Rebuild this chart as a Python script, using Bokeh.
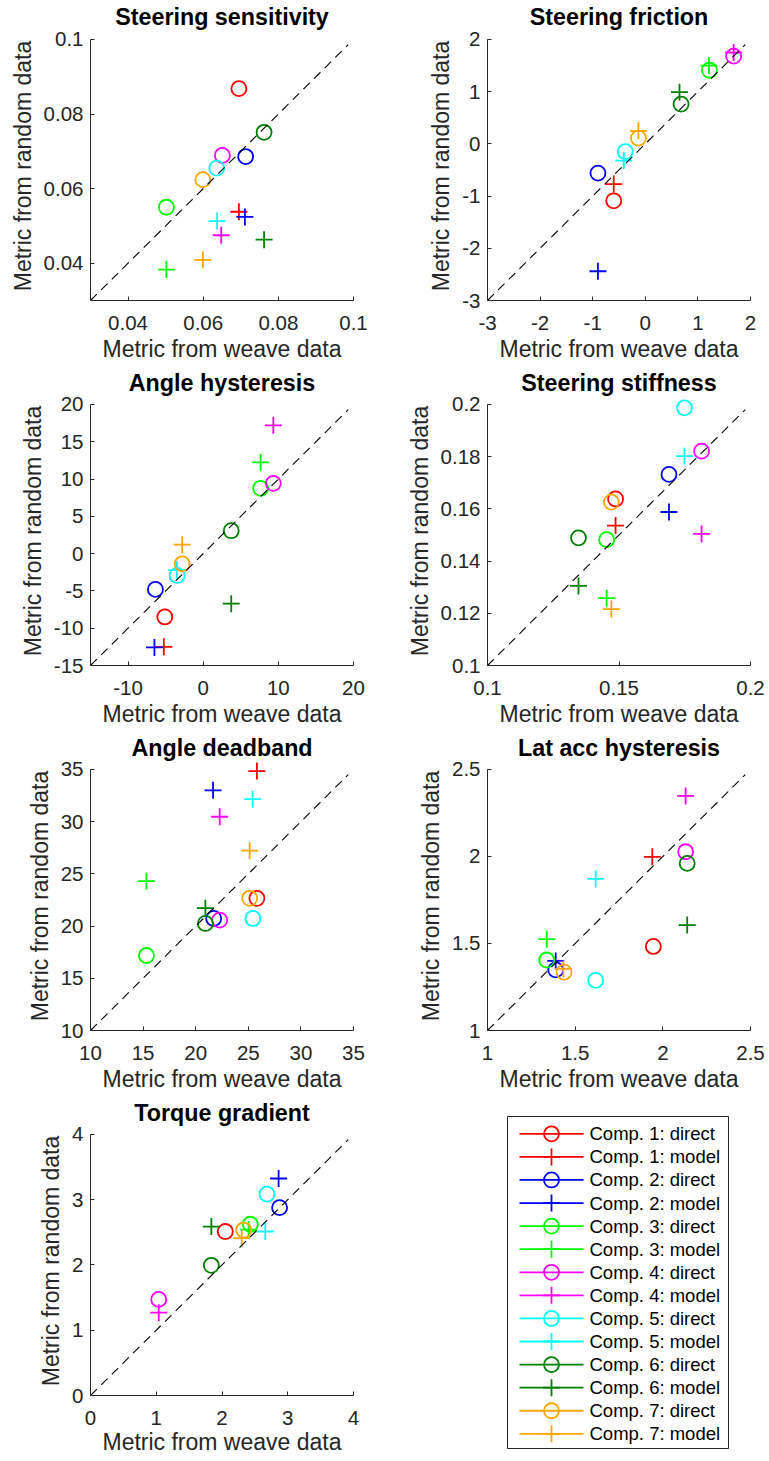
import math
from bokeh.plotting import figure
from bokeh.layouts import column, row
from bokeh.models import Range1d, FixedTicker, ColumnDataSource
from bokeh.core.properties import value
from bokeh.embed import file_html
from bokeh.resources import INLINE

nan = float("nan")

# ---------------- data ----------------
components = ["Comp. 1", "Comp. 2", "Comp. 3", "Comp. 4", "Comp. 5", "Comp. 6", "Comp. 7"]
colors = ["#FF0000", "#0000FF", "#00FF00", "#FF00FF", "#00FFFF", "#008000", "#FFA500"]
series_kinds = ["direct", "model"]

titles = ["Steering sensitivity", "Steering friction", "Angle hysteresis",
          "Steering stiffness", "Angle deadband", "Lat acc hysteresis", "Torque gradient"]
x_label = "Metric from weave data"
y_label = "Metric from random data"

# Steering sensitivity
sens_direct_weave = [0.0695, 0.0713, 0.0502, 0.0651, 0.0636, 0.0762, 0.0599]
sens_direct_random = [0.0868, 0.0686, 0.0550, 0.0689, 0.0655, 0.0751, 0.0624]
sens_model_weave = [0.0695, 0.0711, 0.0502, 0.0648, 0.0637, 0.0762, 0.0599]
sens_model_random = [0.0538, 0.0524, 0.0383, 0.0475, 0.0513, 0.0463, 0.0409]
sens_lim = [0.03, 0.1]
sens_xticks = [0.04, 0.06, 0.08, 0.1]
sens_xlabels = ["0.04", "0.06", "0.08", "0.1"]
sens_yticks = [0.04, 0.06, 0.08, 0.1]
sens_ylabels = ["0.04", "0.06", "0.08", "0.1"]

# Steering friction
fric_direct_weave = [-0.60, -0.90, 1.22, 1.68, -0.38, 0.68, -0.13]
fric_direct_random = [-1.09, -0.56, 1.41, 1.68, -0.15, 0.76, 0.11]
fric_model_weave = [-0.60, -0.90, 1.21, 1.68, -0.41, 0.65, -0.13]
fric_model_random = [-0.77, -2.44, 1.50, 1.75, -0.32, 0.99, 0.25]
fric_lim = [-3, 2]
fric_xticks = [-3, -2, -1, 0, 1, 2]
fric_xlabels = ["-3", "-2", "-1", "0", "1", "2"]
fric_yticks = [-3, -2, -1, 0, 1, 2]
fric_ylabels = ["-3", "-2", "-1", "0", "1", "2"]

# Angle hysteresis
hyst_direct_weave = [-5.11, -6.36, 7.64, 9.33, -3.47, 3.73, -2.80]
hyst_direct_random = [-8.49, -4.80, 8.76, 9.42, -2.93, 3.07, -1.38]
hyst_model_weave = [-5.24, -6.49, 7.64, 9.33, -3.50, 3.73, -2.80]
hyst_model_random = [-12.49, -12.58, 12.22, 17.20, -2.20, -6.71, 1.20]
hyst_lim = [-15, 20]
hyst_xticks = [-10, 0, 10, 20]
hyst_xlabels = ["-10", "0", "10", "20"]
hyst_yticks = [-15, -10, -5, 0, 5, 10, 15, 20]
hyst_ylabels = ["-15", "-10", "-5", "0", "5", "10", "15", "20"]

# Steering stiffness
stiff_direct_weave = [0.1487, 0.1690, 0.1453, 0.1814, 0.1749, 0.1346, 0.1471]
stiff_direct_random = [0.1638, 0.1732, 0.1482, 0.1821, 0.1987, 0.1489, 0.1626]
stiff_model_weave = [0.1487, 0.1690, 0.1453, 0.1814, 0.1749, 0.1346, 0.1471]
stiff_model_random = [0.1536, 0.1588, 0.1258, 0.1504, 0.1802, 0.1305, 0.1216]
stiff_lim = [0.1, 0.2]
stiff_xticks = [0.1, 0.15, 0.2]
stiff_xlabels = ["0.1", "0.15", "0.2"]
stiff_yticks = [0.1, 0.12, 0.14, 0.16, 0.18, 0.2]
stiff_ylabels = ["0.1", "0.12", "0.14", "0.16", "0.18", "0.2"]

# Angle deadband
dead_direct_weave = [25.82, 21.71, 15.32, 22.28, 25.44, 20.92, 25.13]
dead_direct_random = [22.66, 20.73, 17.18, 20.57, 20.73, 20.25, 22.66]
dead_model_weave = [25.82, 21.65, 15.32, 22.28, 25.41, 20.92, 25.13]
dead_model_random = [34.84, 33.00, 24.30, 30.47, 32.15, 21.71, 27.22]
dead_lim = [10, 35]
dead_xticks = [10, 15, 20, 25, 30, 35]
dead_xlabels = ["10", "15", "20", "25", "30", "35"]
dead_yticks = [10, 15, 20, 25, 30, 35]
dead_ylabels = ["10", "15", "20", "25", "30", "35"]

# Lat acc hysteresis
latacc_direct_weave = [1.946, 1.389, 1.338, 2.130, 1.617, 2.139, 1.437]
latacc_direct_random = [1.483, 1.348, 1.405, 2.027, 1.288, 1.960, 1.335]
latacc_model_weave = [1.940, 1.389, 1.338, 2.130, 1.617, 2.139, 1.433]
latacc_model_random = [1.998, 1.400, 1.525, 2.348, 1.871, 1.606, 1.354]
latacc_lim = [1, 2.5]
latacc_xticks = [1, 1.5, 2, 2.5]
latacc_xlabels = ["1", "1.5", "2", "2.5"]
latacc_yticks = [1, 1.5, 2, 2.5]
latacc_ylabels = ["1", "1.5", "2", "2.5"]

# Torque gradient (Comp. 1 model value not shown in the original)
torque_direct_weave = [2.05, 2.876, 2.43, 1.038, 2.684, 1.838, 2.33]
torque_direct_random = [2.513, 2.878, 2.624, 1.472, 3.086, 1.995, 2.535]
torque_model_weave = [nan, 2.861, 2.405, 1.038, 2.658, 1.838, 2.30]
torque_model_random = [nan, 3.325, 2.543, 1.269, 2.513, 2.589, 2.411]
torque_lim = [0, 4]
torque_xticks = [0, 1, 2, 3, 4]
torque_xlabels = ["0", "1", "2", "3", "4"]
torque_yticks = [0, 1, 2, 3, 4]
torque_ylabels = ["0", "1", "2", "3", "4"]

panels = [
    (titles[0], sens_lim, sens_xticks, sens_xlabels, sens_yticks, sens_ylabels,
     sens_direct_weave, sens_direct_random, sens_model_weave, sens_model_random),
    (titles[1], fric_lim, fric_xticks, fric_xlabels, fric_yticks, fric_ylabels,
     fric_direct_weave, fric_direct_random, fric_model_weave, fric_model_random),
    (titles[2], hyst_lim, hyst_xticks, hyst_xlabels, hyst_yticks, hyst_ylabels,
     hyst_direct_weave, hyst_direct_random, hyst_model_weave, hyst_model_random),
    (titles[3], stiff_lim, stiff_xticks, stiff_xlabels, stiff_yticks, stiff_ylabels,
     stiff_direct_weave, stiff_direct_random, stiff_model_weave, stiff_model_random),
    (titles[4], dead_lim, dead_xticks, dead_xlabels, dead_yticks, dead_ylabels,
     dead_direct_weave, dead_direct_random, dead_model_weave, dead_model_random),
    (titles[5], latacc_lim, latacc_xticks, latacc_xlabels, latacc_yticks, latacc_ylabels,
     latacc_direct_weave, latacc_direct_random, latacc_model_weave, latacc_model_random),
    (titles[6], torque_lim, torque_xticks, torque_xlabels, torque_yticks, torque_ylabels,
     torque_direct_weave, torque_direct_random, torque_model_weave, torque_model_random),
]

# ---------------- layout / style ----------------
FONT = "Liberation Sans"
AX_COLOR = "#262626"
FRAME = 263          # size of the axes box (between the axis limits)
PAD = 8              # extra room above the axes so edge markers are not cut
COL_W = [397, 372]
LEFT_B = 90
ROW_H = [367, 365, 365, 363]
ROW_TOP = [37, 35, 35, 35]
ROW_BOT = [67, 67, 67, 65]
TITLE_GAP = [11, 9, 9, 9]
XLAB_STANDOFF = [3, 3, 3, 1]
CIRCLE_SIZE = 15
CROSS_SIZE = 17
LW = 1.8


def no_align(p):
    try:
        p.frame_align = False
    except Exception:
        pass


def style_axis(ax, ticks, labels, lim, is_x, r):
    ax.ticker = FixedTicker(ticks=ticks, minor_ticks=[])
    ax.major_label_overrides = {t: s for t, s in zip(ticks, labels)}
    ax.bounds = (lim[0], lim[1])
    ax.axis_line_color = AX_COLOR
    ax.axis_line_width = 1
    ax.major_tick_line_color = AX_COLOR
    ax.major_tick_in = 4
    ax.major_tick_out = 0
    ax.minor_tick_line_color = None
    ax.major_label_text_font = FONT
    ax.major_label_text_font_size = "20.5px"
    ax.major_label_text_color = AX_COLOR
    ax.axis_label_text_font = FONT
    ax.axis_label_text_font_size = "23px"
    ax.axis_label_text_font_style = "normal"
    ax.axis_label_text_color = AX_COLOR
    if is_x:
        ax.major_label_standoff = 15
        ax.axis_label_standoff = XLAB_STANDOFF[r]
    else:
        ax.major_label_standoff = 7
        ax.axis_label_standoff = 5


def make_panel(idx):
    (title, lim, xt, xl, yt, yl, dw, dr, mw, mr) = panels[idx]
    r, c = divmod(idx, 2)
    w = COL_W[c]
    span = lim[1] - lim[0]
    extra = span * PAD / FRAME
    p = figure(width=w, height=ROW_H[r],
               x_range=Range1d(lim[0], lim[1]),
               y_range=Range1d(lim[0], lim[1] + extra),
               min_border_left=LEFT_B, min_border_right=w - LEFT_B - FRAME,
               min_border_top=ROW_TOP[r] - PAD, min_border_bottom=ROW_BOT[r],
               output_backend="svg", toolbar_location=None, title=title)
    no_align(p)
    p.title.align = "center"
    p.title.text_font = FONT
    p.title.text_font_size = "23.3px"
    p.title.text_font_style = "bold"
    p.title.text_color = "black"
    p.title.standoff = TITLE_GAP[r] - PAD
    p.grid.visible = False
    p.outline_line_color = None
    p.background_fill_color = "white"
    p.xaxis.axis_label = x_label
    p.yaxis.axis_label = y_label
    style_axis(p.xaxis[0], xt, xl, lim, True, r)
    style_axis(p.yaxis[0], yt, yl, lim, False, r)

    for k, col in enumerate(colors):
        p.scatter([dw[k]], [dr[k]], marker="circle", size=CIRCLE_SIZE,
                  fill_color=None, line_color=col, line_width=LW)
        p.scatter([mw[k]], [mr[k]], marker="cross", size=CROSS_SIZE,
                  line_color=col, line_width=LW)
    # identity reference line, drawn on top as in the original
    diag = [lim[0], lim[1] - 0.02 * span]
    p.line(diag, diag, line_color="black", line_width=1.1, line_dash="9 6")
    return p


figs = [make_panel(i) for i in range(7)]

# ---------------- legend panel (frame = legend box, pixel units) ----------------
LEG_W, LEG_H = 221, 332
LEG_LEFT, LEG_TOP = 110, 19
pl = figure(width=COL_W[1], height=ROW_H[3],
            x_range=Range1d(0, LEG_W), y_range=Range1d(0, LEG_H),
            min_border_left=LEG_LEFT, min_border_top=LEG_TOP,
            min_border_right=COL_W[1] - LEG_LEFT - LEG_W,
            min_border_bottom=ROW_H[3] - LEG_TOP - LEG_H,
            output_backend="svg", toolbar_location=None)
no_align(pl)
pl.axis.visible = False
pl.grid.visible = False
pl.outline_line_color = AX_COLOR
pl.outline_line_width = 1
pl.background_fill_color = "white"

ROW_PITCH = 23.08
FIRST_ROW = 17.3
SEG = (12, 76)
MARK_X = 44
TEXT_X = 82

leg_labels, leg_colors, leg_markers, leg_y = [], [], [], []
for name, col in zip(components, colors):
    for kind in series_kinds:
        n = len(leg_labels)
        leg_labels.append(f"{name}: {kind}")
        leg_colors.append(col)
        leg_markers.append("circle" if kind == "direct" else "cross")
        leg_y.append(LEG_H - (FIRST_ROW + ROW_PITCH * n))

leg_src = ColumnDataSource(dict(
    x0=[SEG[0]] * len(leg_y), x1=[SEG[1]] * len(leg_y), xm=[MARK_X] * len(leg_y),
    xt=[TEXT_X] * len(leg_y), y=leg_y, color=leg_colors, marker=leg_markers,
    label=leg_labels,
    size=[CIRCLE_SIZE if m == "circle" else CROSS_SIZE for m in leg_markers]))
pl.segment(x0="x0", y0="y", x1="x1", y1="y", source=leg_src,
           line_color="color", line_width=LW)
pl.scatter(x="xm", y="y", source=leg_src, marker="marker", size="size",
           fill_color=None, line_color="color", line_width=LW)
pl.text(x="xt", y="y", text="label", source=leg_src,
        text_font=value(FONT), text_font_size="18.5px", text_color="black",
        text_baseline="middle", text_align="left")

layout = column(row(figs[0], figs[1]), row(figs[2], figs[3]),
                row(figs[4], figs[5]), row(figs[6], pl))

open("out.html", "w").write(file_html(layout, INLINE))
